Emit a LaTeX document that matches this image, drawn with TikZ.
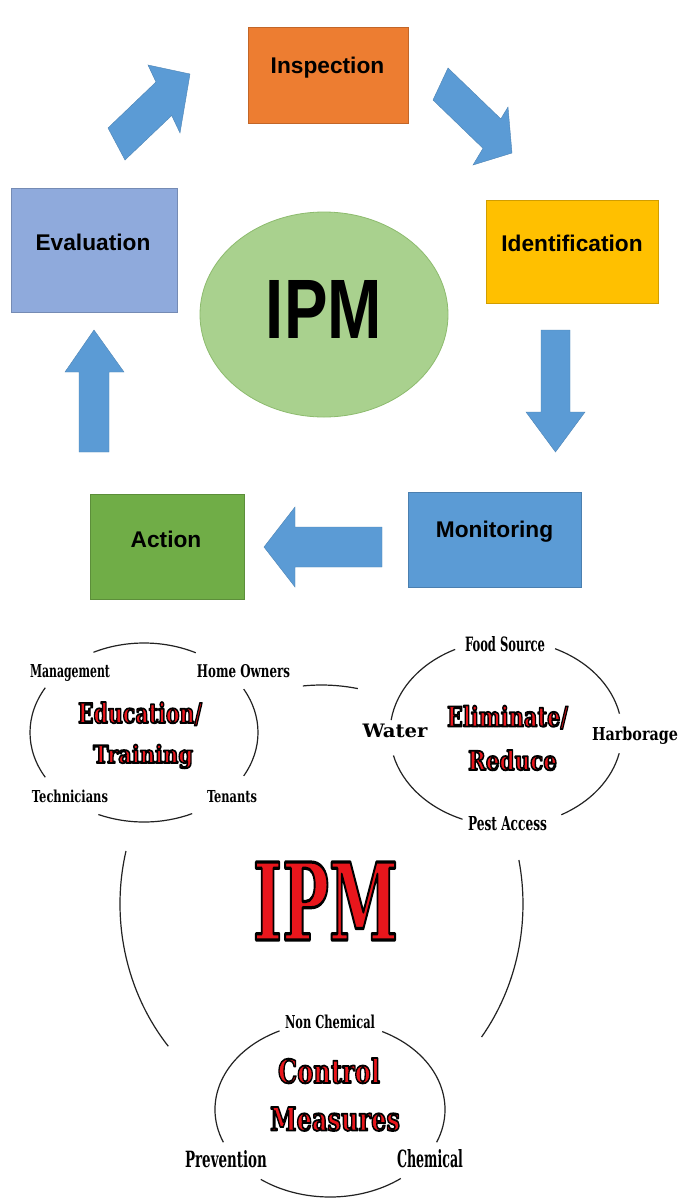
\documentclass[tikz,border=0pt]{standalone}
\usepackage{fontspec}
\usepackage{graphicx}
\usetikzlibrary{shapes.geometric}
\setmainfont{Liberation Sans}
\newfontfamily\slabfont{DejaVu Serif}

\definecolor{inspc}{HTML}{ED7D31}
\definecolor{identc}{HTML}{FFC000}
\definecolor{evalc}{HTML}{8FAADC}
\definecolor{monitc}{HTML}{5B9BD5}
\definecolor{actc}{HTML}{70AD47}
\definecolor{flowblue}{HTML}{5B9BD5}
\definecolor{hubc}{HTML}{A9D18E}
\definecolor{hubedge}{HTML}{8DBB6E}
\definecolor{ringc}{HTML}{222222}
\definecolor{ipmred}{HTML}{E8161C}

% condensed slab label fitted to a given width and height
\newcommand{\fitlabel}[3]{\resizebox{#1pt}{#2pt}{\slabfont\bfseries\fontsize{18}{18}\selectfont #3}}
% red heading with a black stroked outline, fitted to a given width and height
\newcommand{\fitred}[5][1.8]{\resizebox{#2pt}{#3pt}{\slabfont\bfseries\fontsize{#4}{#4}\selectfont
  \textcolor{ipmred}{\special{pdf:literal direct 0 0 0 RG #1 w 1 j 2 Tr}#5\special{pdf:literal direct 0 Tr 0 j}}}}
% partial elliptic arc: centre x, centre y, x radius, y radius, start, end
\newcommand{\ringarc}[6]{\draw[ring] ([shift={(#5:#3 and #4)}]#1,#2) arc[start angle=#5, end angle=#6, x radius=#3, y radius=#4];}

\begin{document}
\begin{tikzpicture}[x=1pt, y=-1pt,
  stage/.style={rectangle, draw=#1!82!black, fill=#1, line width=0.7pt, inner sep=0pt},
  stagetext/.style={anchor=base, inner sep=0pt, font={\fontsize{22.7}{24}\selectfont\bfseries}},
  lbl/.style={anchor=base, inner sep=0pt},
  ring/.style={draw=ringc, line width=1.2pt},
  flow/.style={fill=flowblue, draw=flowblue!85!black, line width=0.4pt}]

\fill[white] (0,0) rectangle (681,1200);
\path[use as bounding box] (0,0) rectangle (681,1200);

% ---------- IPM cycle ----------
\node[stage=inspc,  minimum width=160pt, minimum height=96pt]  (insp)  at (328,75) {};
\node[stage=identc, minimum width=172pt, minimum height=103pt] (ident) at (572,251.5) {};
\node[stage=evalc,  minimum width=166pt, minimum height=124pt] (evalb) at (94,250) {};
\node[stage=monitc, minimum width=173pt, minimum height=95pt]  (monit) at (494.5,539.5) {};
\node[stage=actc,   minimum width=154pt, minimum height=105pt] (act)   at (167,546.5) {};

\node[stagetext] (inspT)  at (327.5,73)  {Inspection};
\node[stagetext] (identT) at (572,251)   {Identification};
\node[stagetext] (evalT)  at (93,250)    {Evaluation};
\node[stagetext] (monitT) at (494.5,537) {Monitoring};
\node[stagetext] (actT)   at (166,547)   {Action};

\node[ellipse, fill=hubc, draw=hubedge, line width=0.8pt, inner sep=0pt,
      minimum width=248pt, minimum height=205pt] (hub) at (324,314.5) {};
\node[lbl] (hubT) at (324,338) {\resizebox{116pt}{58pt}{\bfseries IPM}};

% block arrows of the cycle
\path[flow] (108,128) -- (156,82) -- (148,65) -- (190,74) -- (180,133) -- (171.7,115.5) -- (125,160) -- cycle;
\path[flow] (448,68) -- (500.8,118.9) -- (508,107) -- (512,153) -- (473,165) -- (483,148.3) -- (433,100) -- cycle;
\path[flow] (541,330) -- (570,330) -- (570,412) -- (585,412) -- (555.5,452) -- (526,412) -- (541,412) -- cycle;
\path[flow] (382,527) -- (382,567) -- (295,567) -- (295,587) -- (264,547) -- (295,507) -- (295,527) -- cycle;
\path[flow] (79,452) -- (109,452) -- (109,372) -- (124,372) -- (94,330) -- (65,372) -- (79,372) -- cycle;

% ---------- IPM rings ----------
% outer ring
\ringarc{321.5}{904}{201.5}{219}{139.5}{194}
\ringarc{321.5}{904}{201.5}{219}{-11.6}{37.4}
\ringarc{321.5}{904}{201.5}{219}{264.7}{280.4}
% education / training
\ringarc{144}{732.5}{114}{89.5}{243.7}{297}
\ringarc{144}{732.5}{114}{89.5}{150}{210}
\ringarc{144}{732.5}{114}{89.5}{-29}{29}
\ringarc{144}{732.5}{114}{89.5}{65}{113.6}
% eliminate / reduce
\ringarc{506}{733}{116}{93}{188}{244}
\ringarc{506}{733}{116}{93}{295}{348}
\ringarc{506}{733}{116}{93}{112}{166}
\ringarc{506}{733}{116}{93}{12.6}{61.5}
% control measures
\ringarc{330}{1109.5}{115}{87.5}{158}{244}
\ringarc{330}{1109.5}{115}{87.5}{297}{382}
\ringarc{330}{1109.5}{115}{87.5}{52}{127}

% ring labels
\node[lbl] (mgmt)    at (70,677)     {\fitlabel{80}{13}{Management}};
\node[lbl] (home)    at (243.5,677)  {\fitlabel{93}{13}{Home Owners}};
\node[lbl] (tech)    at (70,802)     {\fitlabel{76}{12.5}{Technicians}};
\node[lbl] (tenant)  at (232,802)    {\fitlabel{50}{12}{Tenants}};
\node[lbl] (food)    at (505,651)    {\fitlabel{80}{15}{Food Source}};
\node[lbl] (water)   at (395,737)    {\fitlabel{65}{13.5}{Water}};
\node[lbl] (harb)    at (635,740)    {\fitlabel{86}{13.5}{Harborage}};
\node[lbl] (pest)    at (507.5,830)  {\fitlabel{79}{14}{Pest Access}};
\node[lbl] (nonchem) at (330,1028)   {\fitlabel{90}{13.5}{Non Chemical}};
\node[lbl] (prev)    at (226,1167.5) {\fitlabel{82}{17}{Prevention}};
\node[lbl] (chem)    at (430,1167)   {\fitlabel{66}{18}{Chemical}};

% red headings
\node[lbl] (edu1)  at (140,723)     {\fitred{124}{21}{29}{Education/}};
\node[lbl] (edu2)  at (143,763)     {\fitred{100}{18.5}{26}{Training}};
\node[lbl] (elim1) at (507.5,726.5) {\fitred{121}{21}{29}{Eliminate/}};
\node[lbl] (elim2) at (512.5,770)   {\fitred{89}{20}{27}{Reduce}};
\node[lbl] (ctl1)  at (329,1083)    {\fitred{102}{25}{34}{Control}};
\node[lbl] (ctl2)  at (335,1130.5)  {\fitred{130}{23.5}{32}{Measures}};
\node[lbl] (ipm)   at (325.5,940)   {\fitred[3.2]{145}{78}{107}{IPM}};
\end{tikzpicture}
\end{document}
